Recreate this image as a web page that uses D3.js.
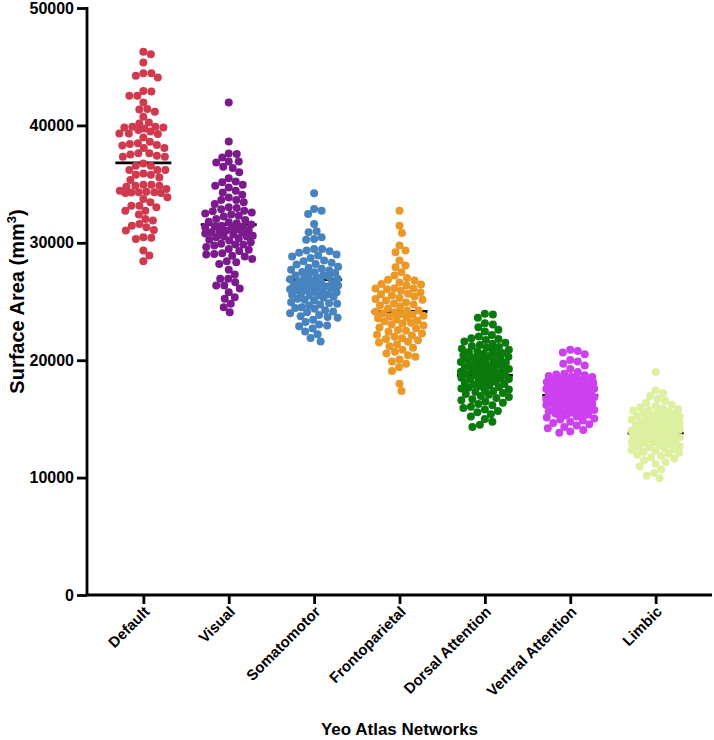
<!DOCTYPE html>
<html>
<head>
<meta charset="utf-8">
<script src="https://cdn.jsdelivr.net/npm/d3@7"></script>
<style>
  html, body { margin: 0; padding: 0; background: #fff; }
  svg { display: block; }
  text { font-family: "Liberation Sans", Arial, sans-serif; font-weight: bold; fill: #000; }
</style>
</head>
<body>
<svg id="chart" width="714" height="740"></svg>
<script>
const categories = ["Default", "Visual", "Somatomotor", "Frontoparietal", "Dorsal Attention", "Ventral Attention", "Limbic"];
const colors = ["#d1394f", "#7b1a8c", "#4784bf", "#ec9826", "#0b7a0d", "#cc40f0", "#ddf0a0"];
const medians = [36800, 31550, 26870, 24150, 18700, 17000, 13780];
const yTicks = [0, 10000, 20000, 30000, 40000, 50000];

const defaultVals = [46280, 46060, 45350, 44450, 44220, 44070, 44450, 42940, 42520, 42520, 42880, 41950, 41350, 41160, 41390, 40730, 40250, 40160, 39820, 39740, 39600, 39880, 39820, 39880, 39480, 39300, 39260, 39300, 38970, 38600, 38490, 38320, 38290, 38070, 38070, 38410, 37620, 37620, 37330, 37530, 37330, 37420, 36760, 36560, 36560, 36200, 36200, 35910, 35800, 35800, 36200, 35570, 35350, 34950, 34860, 34780, 34860, 34580, 34440, 34950, 34300, 34280, 34350, 34300, 34240, 34240, 33730, 33870, 33450, 33160, 33160, 33020, 32740, 32400, 32740, 32030, 31890, 31600, 31460, 31320, 31040, 31100, 30330, 30420, 30470, 29340, 28910, 28430];

const visualVals = [41950, 38630, 37610, 37560, 37270, 36930, 36930, 36840, 36480, 36370, 36000, 35230, 35150, 34950, 34860, 34720, 34440, 34290, 33650, 33650, 33450, 33310, 33020, 32970, 32740, 32680, 32590, 32310, 32230, 32400, 32030, 31950, 31740, 31660, 31460, 31400, 31320, 31260, 31040, 31040, 30890, 30890, 30610, 30530, 30470, 30530, 30250, 30190, 29910, 29850, 29760, 29850, 29480, 29400, 29110, 29050, 29000, 28830, 28630, 28430, 28200, 28340, 27700, 26930, 26930, 26640, 26360, 26360, 25790, 25360, 25230, 24520, 24090, 32850, 32500, 31800, 31550, 31150, 30950, 30700, 30380, 30050, 29650, 29300, 28900, 33850, 34100, 35500, 27300, 26100, 24800, 30800, 31350];

const somatoVals = [34210, 32880, 32740, 32460, 31600, 30980, 30890, 30470, 30250, 30330, 29480, 29480, 29340, 29280, 28910, 28830, 29000, 28490, 28430, 28200, 28150, 27870, 27780, 27700, 27640, 27520, 27420, 27210, 27210, 26930, 27010, 26640, 26580, 26500, 26360, 26300, 26220, 26300, 25930, 25880, 25790, 25620, 25510, 25560, 25510, 25310, 25230, 25080, 24940, 24800, 24740, 24520, 24380, 24090, 24000, 23670, 23610, 23040, 22960, 22700, 22450, 22200, 21900, 21600, 22900, 27950, 27350, 27100, 26800, 26700, 26450, 26150, 26050, 25950, 25700, 25400, 25150, 24850, 24650, 24450, 24250, 23850, 23450, 23250, 26900, 27500, 28300, 28700, 29150, 25850, 26250, 26550, 27050, 24150, 23750];

const frontoVals = [32740, 31460, 30840, 29760, 29340, 29190, 28490, 28060, 27920, 27490, 27210, 26850, 26790, 26500, 26450, 26360, 26100, 26050, 26130, 26100, 25650, 25620, 25510, 25140, 25080, 25220, 24650, 24570, 24740, 24240, 24090, 24240, 24410, 24130, 23990, 23940, 23870, 23780, 23720, 23640, 23570, 23460, 23380, 23310, 23190, 23130, 23040, 22960, 22790, 22720, 22580, 22510, 22430, 22280, 22170, 22100, 21990, 21880, 21810, 21700, 21580, 21500, 21360, 21190, 21060, 20880, 20710, 20580, 20420, 20300, 20050, 19880, 19700, 19400, 19080, 18000, 17370, 25910, 25770, 25420, 25290, 24910, 24830, 27010, 26620];

const dorsalVals = [23950, 23900, 23620, 23150, 23050, 22800, 22600, 22450, 22150, 22020, 21880, 21800, 21720, 21600, 21480, 21400, 21300, 21200, 21120, 21050, 20980, 20900, 20850, 20760, 20700, 20620, 20560, 20500, 20420, 20350, 20300, 20220, 20160, 20100, 20030, 19980, 19900, 19850, 19790, 19730, 19660, 19600, 19540, 19480, 19420, 19370, 19300, 19240, 19180, 19120, 19060, 19010, 18960, 18900, 18840, 18790, 18730, 18680, 18620, 18560, 18500, 18440, 18390, 18330, 18270, 18210, 18150, 18090, 18030, 17970, 17900, 17840, 17780, 17710, 17650, 17580, 17510, 17440, 17370, 17290, 17210, 17130, 17050, 16950, 16860, 16770, 16680, 16590, 16490, 16380, 16270, 16160, 16040, 15920, 15800, 15680, 15560, 15400, 15200, 15000, 14750, 14500, 14300];

const ventralVals = [20890, 20780, 20650, 20500, 20020, 19880, 19700, 19550, 19250, 19000, 18850, 18780, 18720, 18650, 18590, 18560, 18520, 18460, 18400, 18340, 18270, 18210, 18150, 18110, 18080, 18020, 17960, 17900, 17870, 17840, 17780, 17720, 17660, 17600, 17560, 17540, 17480, 17420, 17360, 17330, 17300, 17250, 17190, 17150, 17130, 17070, 17020, 16970, 16950, 16910, 16850, 16820, 16790, 16730, 16670, 16650, 16610, 16550, 16490, 16430, 16370, 16310, 16280, 16250, 16190, 16120, 16060, 16000, 15930, 15870, 15800, 15760, 15730, 15660, 15590, 15520, 15480, 15440, 15360, 15280, 15200, 15120, 15040, 14950, 14860, 14760, 14660, 14550, 14440, 14320, 14200, 14060, 13920, 13810];

const limbicVals = [18990, 17430, 17180, 16950, 16720, 16550, 16380, 16200, 16080, 15980, 15900, 15830, 15760, 15690, 15620, 15550, 15480, 15420, 15360, 15300, 15240, 15180, 15120, 15060, 15000, 14940, 14880, 14820, 14760, 14700, 14640, 14580, 14520, 14460, 14400, 14340, 14280, 14220, 14160, 14100, 14040, 13980, 13920, 13860, 13800, 13740, 13680, 13620, 13560, 13500, 13440, 13380, 13320, 13260, 13200, 13140, 13080, 13020, 12960, 12900, 12840, 12770, 12700, 12630, 12560, 12490, 12420, 12350, 12280, 12200, 12120, 12040, 11950, 11850, 11740, 11620, 11480, 11320, 11150, 10950, 10700, 10400, 10150, 9950];

const seriesValues = [defaultVals, visualVals, somatoVals, frontoVals, dorsalVals, ventralVals, limbicVals];

const svg = d3.select("#chart");
const mLeft = 87, mRight = 712, mTop = 8, mBottom = 595;

const x = d3.scalePoint().domain(categories).range([mLeft, mRight]).padding(0.66);
const y = d3.scaleLinear().domain([0, 50000]).range([mBottom, mTop]);

// Axes
const yAxis = svg.append("g").attr("transform", `translate(${mLeft},0)`)
  .call(d3.axisLeft(y).tickValues(yTicks).tickFormat(d3.format("d")).tickSize(10).tickPadding(3));
yAxis.select(".domain").attr("stroke", "#000").attr("stroke-width", 2.8).attr("d", `M0,${mTop - 1}V${mBottom}`);
yAxis.selectAll(".tick line").attr("stroke", "#000").attr("stroke-width", 2.8);
yAxis.selectAll(".tick text").style("font-size", "16px").style("font-weight", "bold")
  .style("font-family", '"Liberation Sans", Arial, sans-serif').attr("fill", "#000");

const xAxis = svg.append("g").attr("transform", `translate(0,${mBottom})`)
  .call(d3.axisBottom(x).tickSize(9).tickPadding(4));
xAxis.select(".domain").attr("stroke", "#000").attr("stroke-width", 2.8).attr("d", `M${mLeft - 1.4},0H${mRight}`);
xAxis.selectAll(".tick line").attr("stroke", "#000").attr("stroke-width", 2.8);
xAxis.selectAll(".tick text")
  .style("font-size", "15px").style("font-weight", "bold")
  .style("font-family", '"Liberation Sans", Arial, sans-serif').attr("fill", "#000")
  .attr("text-anchor", "end")
  .attr("dy", "0.35em")
  .attr("transform", "translate(3,14) rotate(-45)")
  .attr("x", 0).attr("y", 0);

// Axis titles
svg.append("text")
  .attr("transform", `translate(24,${(mTop + mBottom) / 2}) rotate(-90)`)
  .attr("text-anchor", "middle")
  .style("font-size", "20px")
  .html('Surface Area (mm<tspan dy="-8" font-size="13px">3</tspan><tspan dy="8">)</tspan>');

svg.append("text")
  .attr("x", (mLeft + mRight) / 2).attr("y", 735)
  .attr("text-anchor", "middle")
  .style("font-size", "17px")
  .text("Yeo Atlas Networks");

// Beeswarm layout with bounded width (overlap allowed when crowded)
const r = 4;
const maxOff = 24;
function swarm(values, cx) {
  const pts = values.map(v => ({ v, py: y(v) })).sort((a, b) => b.v - a.v);
  const placed = [];
  const minD = 7.6;
  const cands = [0];
  for (let s = 0.5; s <= maxOff; s += 0.5) { cands.push(s, -s); }
  for (const p of pts) {
    let best = 0, bestD = -1;
    for (const cand of cands) {
      let dmin = Infinity;
      for (const q of placed) {
        const dy = q.py - p.py;
        if (Math.abs(dy) >= minD) continue;
        const dx = q.px - (cx + cand);
        const dd = Math.sqrt(dx * dx + dy * dy);
        if (dd < dmin) dmin = dd;
      }
      if (dmin >= minD) { best = cand; bestD = dmin; break; }
      if (dmin > bestD + 0.3) { bestD = dmin; best = cand; }
    }
    p.px = cx + best;
    placed.push(p);
  }
  return placed;
}

// Median lines (below dots)
svg.append("g").selectAll("line").data(categories).join("line")
  .attr("x1", d => x(d) - 28).attr("x2", d => x(d) + 28)
  .attr("y1", (d, i) => y(medians[i])).attr("y2", (d, i) => y(medians[i]))
  .attr("stroke", "#000").attr("stroke-width", 2.8);

categories.forEach((c, i) => {
  const pts = swarm(seriesValues[i], x(c));
  svg.append("g").selectAll("circle").data(pts).join("circle")
    .attr("cx", d => d.px).attr("cy", d => d.py).attr("r", r)
    .attr("fill", colors[i]);
});
</script>
</body>
</html>
